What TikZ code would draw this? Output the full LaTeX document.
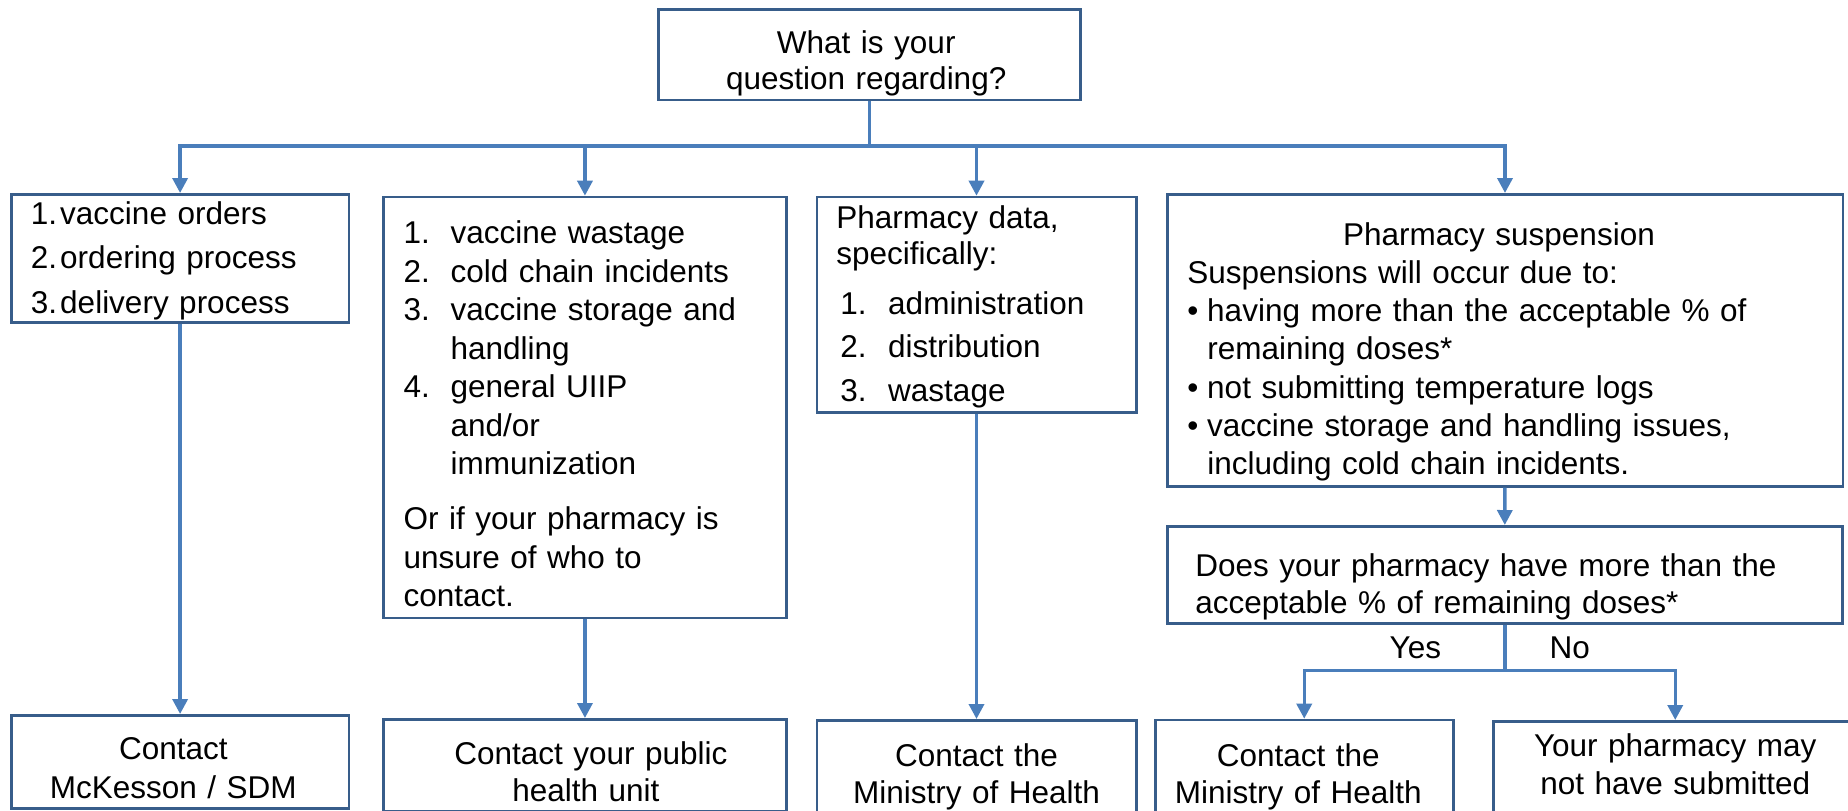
\documentclass[tikz,border=0pt]{standalone}
\usepackage{fontspec}
\setmainfont{Liberation Sans}
\usepackage{tikz}
\usetikzlibrary{arrows.meta, positioning}

\definecolor{boxline}{HTML}{385D8A}
\definecolor{linkline}{HTML}{4A7EBB}
\newcommand{\numlbl}[2]{\makebox[#1][l]{#2}}
\newcommand{\lnshift}[2]{\hspace*{#1}#2\hspace*{-#1}}

\begin{document}
\begin{tikzpicture}[x=1pt, y=-1pt,
    qbox/.style={draw=boxline, line width=2.5pt, anchor=north west,
      inner ysep=0pt, inner xsep=20pt, align=left},
    qcbox/.style={qbox, align=center},
    link/.style={draw=linkline, line width=3.5pt},
    arr/.style={link, -{Triangle[length=15pt, width=15pt]}},
    ans/.style={inner sep=0pt, font=\fontsize{31.5}{38}\selectfont}
  ]
  \useasboundingbox (0,0) rectangle (1848,811);

  % question
  \node[qcbox, text width=382pt, text height=43.7pt, text depth=46.7pt,
    font=\fontsize{31.5}{36}\selectfont] (qtop) at (657,8.3)
    {\lnshift{-6pt}{What is your}\\\lnshift{-6pt}{question regarding?}};

  % first row
  \node[qbox, inner xsep=19.5pt, text width=298.7pt, text height=30pt, text depth=98pt,
    font=\fontsize{31.5}{44.5}\selectfont] (orders) at (10,193)
    {\numlbl{29.5pt}{1.}vaccine orders\\
     \numlbl{29.5pt}{2.}ordering process\\
     \numlbl{29.5pt}{3.}delivery process};
  \node[qbox, text width=362.6pt, text height=47pt, text depth=374pt,
    font=\fontsize{31.5}{38.5}\selectfont] (storage) at (382.4,195.7)
    {\numlbl{47pt}{1.}vaccine wastage\\
     \numlbl{47pt}{2.}cold chain incidents\\
     \numlbl{47pt}{3.}vaccine storage and\\
     \hspace*{47pt}handling\\
     \numlbl{47pt}{4.}general UIIP\\
     \hspace*{47pt}and/or\\
     \hspace*{47pt}immunization\\[16.5pt]
     Or if your pharmacy is\\
     unsure of who to\\
     contact.};
  \node[qbox, inner xsep=19.5pt, text width=280.5pt, text height=31.3pt, text depth=184pt,
    font=\fontsize{31.5}{36.3}\selectfont] (pdata) at (815.5,195.7)
    {Pharmacy data,\\
     specifically:\\[13.7pt]
     \hspace*{4pt}\numlbl{48pt}{1.}administration\\[7pt]
     \hspace*{4pt}\numlbl{48pt}{2.}distribution\\[7pt]
     \hspace*{4pt}\numlbl{48pt}{3.}wastage};
  \node[qbox, text width=635.5pt, text height=51pt, text depth=241pt,
    font=\fontsize{31.5}{38.2}\selectfont] (susp) at (1166,193)
    {\makebox[\linewidth]{\lnshift{-6pt}{Pharmacy suspension}}\\
     Suspensions will occur due to:\\
     \numlbl{20pt}{•}having more than the acceptable \% of\\
     \hspace*{20pt}remaining doses*\\
     \numlbl{20pt}{•}not submitting temperature logs\\
     \numlbl{20pt}{•}vaccine storage and handling issues,\\
     \hspace*{20pt}including cold chain incidents.};
  \node[qbox, inner xsep=28pt, text width=619pt, text height=50pt, text depth=47pt,
    font=\fontsize{31.5}{37}\selectfont] (doses) at (1166,525)
    {Does your pharmacy have more than the\\
     acceptable \% of remaining doses*};

  % contacts
  \node[qcbox, text width=297.7pt, text height=44pt, text depth=49pt,
    font=\fontsize{31.5}{39.7}\selectfont] (mck) at (10,714)
    {\lnshift{-13.5pt}{Contact}\\\lnshift{-13.5pt}{McKesson / SDM}};
  \node[qcbox, text width=362.6pt, text height=45pt, text depth=47pt,
    font=\fontsize{31.5}{37}\selectfont] (phu) at (382.4,718)
    {\lnshift{12pt}{Contact your public}\\\lnshift{2pt}{health unit}};
  \node[qcbox, text width=279.5pt, text height=46pt, text depth=50pt,
    font=\fontsize{31.5}{37}\selectfont] (moh1) at (815.5,719)
    {Contact the\\Ministry of Health};
  \node[qcbox, text width=258pt, text height=46.3pt, text depth=50pt,
    font=\fontsize{31.5}{37}\selectfont] (moh2) at (1154,718.7)
    {\lnshift{-12pt}{Contact the}\\\lnshift{-12pt}{Ministry of Health}};
  \node[qcbox, text width=324pt, text height=35pt, text depth=85pt,
    font=\fontsize{31.5}{38}\selectfont] (notsub) at (1492,720)
    {Your pharmacy may\\not have submitted};

  % connectors
  \coordinate (busrow) at (0,146);
  \coordinate (hub) at (qtop.south |- busrow);
  \draw[link] (qtop) -- (hub);
  \foreach \b in {orders, storage, pdata, susp}
    \draw[arr] (hub) -| (\b);
  \draw[arr] (orders) -- (mck);
  \draw[arr] (storage) -- (phu);
  \draw[arr] (pdata) -- (moh1);
  \draw[arr] (susp) -- (doses);

  \coordinate (splitrow) at (0,670.7);
  \coordinate (split) at (doses.south |- splitrow);
  \draw[link] (doses) -- (split)
    node[ans, midway, left=62pt] (yes) {Yes}
    node[ans, midway, right=43pt] (no) {No};
  \draw[arr] (split) -| (moh2);
  \draw[arr] (split) -| (notsub);
\end{tikzpicture}
\end{document}
